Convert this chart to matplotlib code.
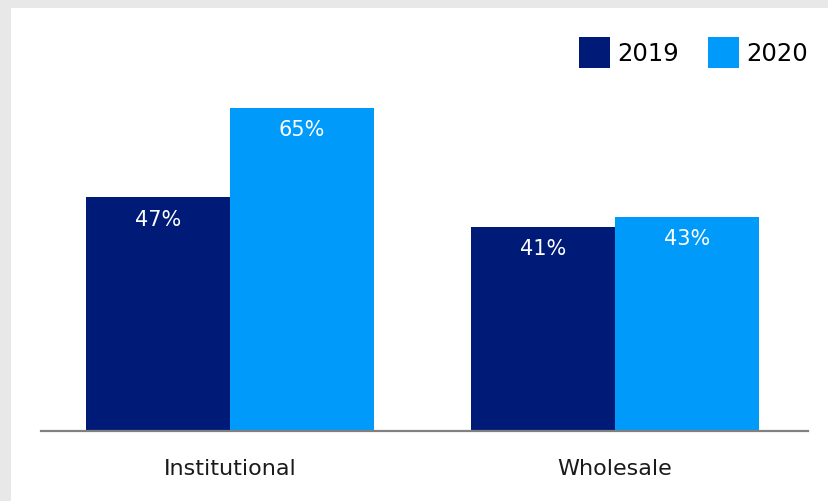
import matplotlib.pyplot as plt
from matplotlib.patches import Rectangle
import numpy as np

# datos del gráfico
categorias = ["Institutional", "Wholesale"]
anios = ["2019", "2020"]
valores_2019 = [47, 41]
valores_2020 = [65, 43]

AZUL_OSCURO = "#001a78"
AZUL_CLARO = "#009afa"
GRIS_FONDO = "#e8e8e8"

fig = plt.figure(figsize=(8.29, 5.01), dpi=100, facecolor=GRIS_FONDO)
# panel blanco (borde gris arriba e izquierda)
fig.patches.append(Rectangle((11 / 829, 0), 1, 1 - 8 / 501, transform=fig.transFigure,
                             facecolor="white", edgecolor="none", zorder=-10))

ax = fig.add_axes([41 / 829, 70 / 501, 767 / 829, 348 / 501])
ax.set_facecolor("none")

x = np.arange(len(categorias))
ancho = 0.374
b1 = ax.bar(x - ancho / 2, valores_2019, ancho, color=AZUL_OSCURO, label=anios[0])
b2 = ax.bar(x + ancho / 2, valores_2020, ancho, color=AZUL_CLARO, label=anios[1])

# etiquetas dentro de las barras
for barras, vals in [(b1, valores_2019), (b2, valores_2020)]:
    for rect, v in zip(barras, vals):
        ax.annotate(f"{v}%", (rect.get_x() + rect.get_width() / 2, v),
                    xytext=(0, -16), textcoords="offset points",
                    ha="center", va="center", color="white", fontsize=15)

ax.set_xlim(-0.491, 1.501)
ax.set_ylim(0, 70)
ax.set_xticks(x)
ax.set_xticklabels(categorias, fontsize=16, color="#1a1a1a")
ax.tick_params(axis="x", length=0, pad=20)
ax.set_yticks([])
for lado in ["top", "right", "left"]:
    ax.spines[lado].set_visible(False)
ax.spines["bottom"].set_color("#808080")
ax.spines["bottom"].set_linewidth(1.6)

fig.legend(loc="upper right", bbox_to_anchor=(808 / 829, 1 - 37 / 501),
           ncol=2, frameon=False, fontsize=17.5, handlelength=1.27, handleheight=1.6,
           handletextpad=0.3, columnspacing=1.2, borderpad=0, borderaxespad=0)

fig.savefig("out.png", dpi=100, facecolor=GRIS_FONDO)
